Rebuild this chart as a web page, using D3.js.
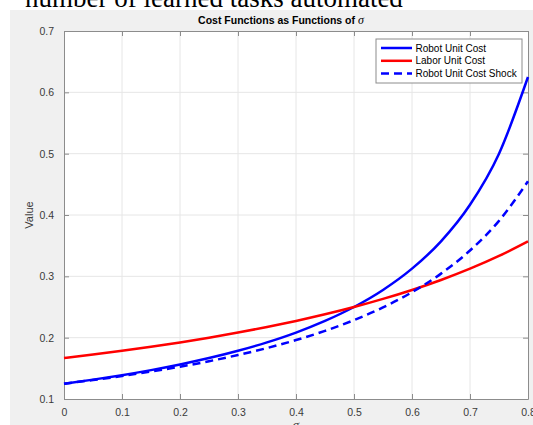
<!DOCTYPE html>
<html>
<head>
<meta charset="utf-8">
<script src="https://cdn.jsdelivr.net/npm/d3@7"></script>
<style>
  body { margin: 0; background: #fff; }
  svg { display: block; }
</style>
</head>
<body>
<svg id="viz"></svg>
<script>
// ----------------------- DATA
const sigma = [0, 0.05, 0.1, 0.15, 0.2, 0.25, 0.3, 0.35, 0.4, 0.45, 0.5, 0.55, 0.6, 0.65, 0.7, 0.75, 0.8];
const robotCost = [0.125, 0.1316, 0.1389, 0.1471, 0.1563, 0.1667, 0.1786, 0.1923, 0.2083, 0.2273, 0.25, 0.2778, 0.3125, 0.3571, 0.4167, 0.5, 0.625];
const laborCost = [0.1667, 0.1724, 0.1786, 0.1852, 0.1923, 0.2, 0.2083, 0.2174, 0.2273, 0.2381, 0.25, 0.2632, 0.2778, 0.2941, 0.3125, 0.3333, 0.3571];
const robotShock = [0.125, 0.1309, 0.1375, 0.1447, 0.1527, 0.1616, 0.1717, 0.1831, 0.1961, 0.2111, 0.2286, 0.2493, 0.2741, 0.3044, 0.3421, 0.3905, 0.455];
const xTicks = [0, 0.1, 0.2, 0.3, 0.4, 0.5, 0.6, 0.7, 0.8];
const yTicks = [0.1, 0.2, 0.3, 0.4, 0.5, 0.6, 0.7];
const seriesNames = ['Robot Unit Cost', 'Labor Unit Cost', 'Robot Unit Cost Shock'];

// ----------------------- SETTINGS
const W = 533, H = 425;
const margin = { top: 31, right: 5, bottom: 26, left: 64 },
  width = W - margin.left - margin.right,
  height = H - margin.top - margin.bottom;

const svg = d3.select('#viz').attr('width', W).attr('height', H);

// page text above the figure (cut off in the screenshot)
svg.append('text')
  .attr('x', 25).attr('y', 7)
  .style('font-family', '"Liberation Serif", "Times New Roman", serif')
  .style('font-size', '27px')
  .attr('fill', '#000')
  .text('number of learned tasks automated');

// figure background
svg.append('rect')
  .attr('x', 10).attr('y', 10)
  .attr('width', W - 10).attr('height', H - 10)
  .attr('fill', '#f0f0f0');

const x = d3.scaleLinear().domain([0, 0.8]).range([0, width]);
const y = d3.scaleLinear().domain([0.1, 0.7]).range([height, 0]);

const chart = svg.append('g')
  .attr('transform', `translate(${margin.left}, ${margin.top})`);

chart.append('rect')
  .attr('width', width).attr('height', height)
  .attr('fill', '#fff');

// grid
chart.append('g').selectAll('line')
  .data(xTicks.slice(1, -1)).enter().append('line')
  .attr('x1', d => x(d)).attr('x2', d => x(d))
  .attr('y1', 0).attr('y2', height)
  .attr('stroke', '#e6e6e6').attr('stroke-width', 1);
chart.append('g').selectAll('line')
  .data(yTicks.slice(1, -1)).enter().append('line')
  .attr('y1', d => y(d)).attr('y2', d => y(d))
  .attr('x1', 0).attr('x2', width)
  .attr('stroke', '#e6e6e6').attr('stroke-width', 1);

// axes (ticks inward, box on all four sides)
const tickLen = 5;
const axisStyle = g => {
  g.select('.domain').attr('stroke', '#8c8c8c');
  g.selectAll('.tick line').attr('stroke', '#8c8c8c');
  g.selectAll('.tick text')
    .attr('fill', '#3a3a3a')
    .style('font-family', '"Liberation Sans", Arial, sans-serif')
    .style('font-size', '10.5px');
};

chart.append('g')
  .attr('transform', `translate(0, ${height})`)
  .call(d3.axisBottom(x).tickValues(xTicks).tickFormat(d3.format('')).tickSizeInner(-tickLen).tickSizeOuter(0).tickPadding(10))
  .call(axisStyle);
chart.append('g')
  .call(d3.axisTop(x).tickValues(xTicks).tickFormat('').tickSizeInner(-tickLen).tickSizeOuter(0))
  .call(axisStyle);
chart.append('g')
  .call(d3.axisLeft(y).tickValues(yTicks).tickFormat(d3.format('')).tickSizeInner(-tickLen).tickSizeOuter(0).tickPadding(10))
  .call(axisStyle);
chart.append('g')
  .attr('transform', `translate(${width}, 0)`)
  .call(d3.axisRight(y).tickValues(yTicks).tickFormat('').tickSizeInner(-tickLen).tickSizeOuter(0))
  .call(axisStyle);

// axis labels
svg.append('text')
  .attr('transform', `translate(${margin.left - 31}, ${margin.top + height / 2}) rotate(-90)`)
  .attr('text-anchor', 'middle')
  .attr('fill', '#3a3a3a')
  .style('font-family', '"Liberation Sans", Arial, sans-serif')
  .style('font-size', '11px')
  .text('Value');
svg.append('text')
  .attr('x', margin.left + width / 2).attr('y', H + 4)
  .attr('text-anchor', 'middle')
  .attr('fill', '#3a3a3a')
  .style('font-family', '"Liberation Serif", serif')
  .style('font-style', 'italic')
  .style('font-size', '13px')
  .text('σ');

// title
const title = svg.append('text')
  .attr('x', 281).attr('y', margin.top - 7)
  .attr('text-anchor', 'middle')
  .attr('fill', '#000')
  .style('font-family', '"Liberation Sans", Arial, sans-serif')
  .style('font-size', '10.5px')
  .style('font-weight', 'bold');
title.append('tspan').text('Cost Functions as Functions of ');
title.append('tspan')
  .style('font-family', '"Liberation Serif", serif')
  .style('font-style', 'italic')
  .style('font-weight', 'normal')
  .style('font-size', '12px')
  .text('σ');

// lines
const line = d3.line()
  .x((d, i) => x(sigma[i]))
  .y(d => y(d))
  .curve(d3.curveMonotoneX);

const series = [
  { name: seriesNames[0], values: robotCost, color: '#0000ff', dash: null },
  { name: seriesNames[1], values: laborCost, color: '#ff0000', dash: null },
  { name: seriesNames[2], values: robotShock, color: '#0000ff', dash: '8,5' }
];

const plot = chart.append('g');
series.forEach(s => {
  plot.append('path')
    .datum(s.values)
    .attr('d', line)
    .attr('fill', 'none')
    .attr('stroke', s.color)
    .attr('stroke-width', 2.5)
    .attr('stroke-dasharray', s.dash);
});

// legend
const legend = svg.append('g').attr('transform', 'translate(376, 39)');
legend.append('rect')
  .attr('width', 146).attr('height', 44)
  .attr('fill', '#fff')
  .attr('stroke', '#8c8c8c');
series.forEach((s, i) => {
  const ly = 9 + i * 12.8;
  legend.append('line')
    .attr('x1', 5).attr('x2', 36)
    .attr('y1', ly).attr('y2', ly)
    .attr('stroke', s.color)
    .attr('stroke-width', 2.5)
    .attr('stroke-dasharray', s.dash);
  legend.append('text')
    .attr('x', 39.5).attr('y', ly + 3.6)
    .attr('fill', '#000')
    .style('font-family', '"Liberation Sans", Arial, sans-serif')
    .style('font-size', '10px')
    .text(s.name);
});
</script>
</body>
</html>
